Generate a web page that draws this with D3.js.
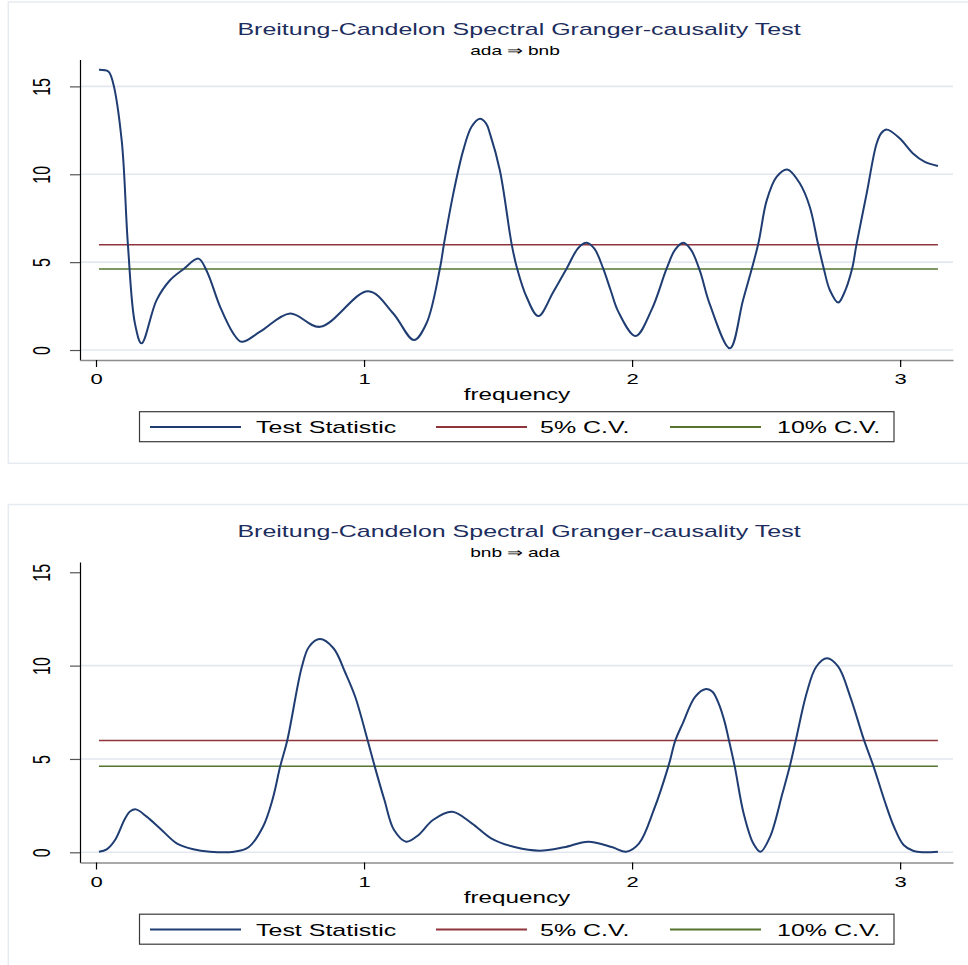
<!DOCTYPE html>
<html>
<head>
<meta charset="utf-8">
<script src="https://cdn.jsdelivr.net/npm/d3@7/dist/d3.min.js"></script>
<style>
body { margin: 0; background: #fff; }
text { font-family: "Liberation Sans", Arial, Helvetica, sans-serif; }
</style>
</head>
<body>
<div id="chart"></div>
<script>
// test statistic, ada => bnb
var freqA = [0.011,0.046,0.063,0.096,0.119,0.145,0.170,0.226,0.276,0.326,0.382,0.413,0.463,0.512,0.543,
    0.612,0.724,0.836,1.016,1.109,1.186,1.233,1.283,1.298,1.333,1.370,1.401,1.432,1.455,1.470,1.507,1.551,
    1.571,1.606,1.650,1.706,1.756,1.800,1.830,1.860,1.892,1.920,1.948,2.013,2.073,2.129,2.160,2.191,2.220,
    2.253,2.290,2.365,2.414,2.470,2.502,2.539,2.579,2.626,2.663,2.694,2.715,2.738,2.769,2.790,2.821,2.837,
    2.875,2.912,2.930,2.951,2.999,3.048,3.092,3.141];
var statA = [15.95,15.85,15.24,11.9,6.0,1.53,0.38,2.84,3.97,4.6,5.2,4.5,2.46,0.95,0.47,
    1.04,2.08,1.32,3.35,2.08,0.57,1.52,4.64,6.02,8.9,11.36,12.7,13.16,12.9,12.3,10.2,6.0,
    4.64,3.03,1.93,3.3,4.64,5.82,6.1,5.75,4.64,3.4,2.2,0.8,2.3,4.64,5.7,6.1,5.7,
    4.5,2.6,0.1,2.84,6.0,8.5,9.85,10.27,9.47,8.14,6.0,4.64,3.4,2.7,3.2,4.64,6.0,
    8.9,11.74,12.35,12.54,12.03,11.18,10.7,10.47];

// test statistic, bnb => ada
var freqB = [0.011,0.040,0.071,0.108,0.128,0.149,0.189,0.239,0.301,0.363,0.425,0.515,0.569,0.623,0.659,0.687,
    0.714,0.768,0.795,0.835,0.886,0.931,0.967,1.013,1.040,1.076,1.112,1.157,1.203,1.257,1.329,1.402,1.474,
    1.565,1.655,1.746,1.836,1.927,1.978,2.026,2.081,2.135,2.162,2.189,2.235,2.276,2.300,2.325,2.345,2.361,
    2.383,2.416,2.452,2.479,2.515,2.561,2.588,2.611,2.651,2.687,2.727,2.769,2.814,2.865,2.901,2.941,2.977,
    3.013,3.050,3.086,3.141];
var statB = [0.03,0.16,0.66,1.8,2.2,2.30,1.91,1.28,0.48,0.16,0.03,0.03,0.27,1.37,2.85,4.59,
    6.02,9.94,11.01,11.42,10.93,9.59,8.33,6.02,4.59,2.80,1.19,0.57,0.93,1.73,2.17,1.55,0.75,
    0.27,0.09,0.27,0.57,0.27,0.03,0.48,2.27,4.59,6.02,6.91,8.33,8.75,8.6,7.9,7.0,6.02,
    4.59,2.09,0.48,0.03,0.84,3.16,4.59,6.02,8.52,9.94,10.39,9.94,8.33,6.02,4.59,2.80,1.37,
    0.39,0.07,0.00,0.03];

var cv5 = 5.99;
var cv10 = 4.61;

var xTicks = [0, 1, 2, 3];
var yTicks = [0, 5, 10, 15];
var gridA = [0, 5, 10, 15];
var gridB = [0, 5, 10];

var titleText = 'Breitung-Candelon Spectral Granger-causality Test';
var subtitles = ['ada \u21D2 bnb', 'bnb \u21D2 ada'];
var legendLabels = ['Test Statistic', '5% C.V.', '10% C.V.'];
var colors = ['#1f3d72', '#90353b', '#55752f'];

var SX = 1.47; // picture is stretched sideways
var W = 968, H = 965;

var svg = d3.select('#chart').append('svg')
    .attr('width', W)
    .attr('height', H);

svg.append('rect').attr('width', W).attr('height', H).attr('fill', '#fff');

var xScale = d3.scaleLinear()
    .domain([-0.0597, 3.1972])
    .range([80, 953]);

var line = function(yScale){
    return d3.line()
        .x(function(d){ return xScale(d[0]); })
        .y(function(d){ return yScale(d[1]); })
        .curve(d3.curveCatmullRom.alpha(0.5));
};

function addText(g, x, y, str, size, color, anchor){
    return g.append('text')
        .attr('transform', 'translate(' + x + ',' + y + ') scale(' + SX + ',1)')
        .attr('text-anchor', anchor || 'middle')
        .attr('font-size', size)
        .attr('fill', color || '#000')
        .text(str);
}

function drawPanel(top, freq, stat, sub, yDomain, grid, frameH){
    var g = svg.append('g').attr('transform', 'translate(0,' + top + ')');

    g.append('rect')
        .attr('x', 8.3).attr('y', 0)
        .attr('width', 1000).attr('height', frameH)
        .attr('fill', '#fff')
        .attr('stroke', '#e6eaf1')
        .attr('stroke-width', 1.5);

    var yScale = d3.scaleLinear()
        .domain(yDomain)
        .range([358, 57.5]);

    // grid
    g.selectAll('line.grid')
        .data(grid)
        .enter()
        .append('line')
        .attr('class', 'grid')
        .attr('x1', 80).attr('x2', 953)
        .attr('y1', function(d){ return yScale(d); })
        .attr('y2', function(d){ return yScale(d); })
        .attr('stroke', '#e3e8f0')
        .attr('stroke-width', 1.6);

    // y axis
    var yAxis = d3.axisLeft(yScale)
        .tickValues(yTicks)
        .tickSize(10)
        .tickSizeOuter(0)
        .tickFormat(d3.format('d'));
    var ya = g.append('g').attr('transform', 'translate(80,0)').call(yAxis);
    ya.select('.domain').attr('stroke', '#000').attr('stroke-width', 1.2);
    ya.selectAll('.tick line').attr('stroke', '#555').attr('stroke-width', 1.2);
    ya.selectAll('.tick text')
        .attr('x', null).attr('dy', null)
        .attr('transform', 'translate(-30,0) scale(' + SX + ',1) rotate(-90)')
        .attr('text-anchor', 'middle')
        .attr('font-size', 16)
        .attr('font-family', null)
        .attr('fill', '#000');

    // x axis
    var xAxis = d3.axisBottom(xScale)
        .tickValues(xTicks)
        .tickSize(7)
        .tickSizeOuter(0)
        .tickFormat(d3.format('d'));
    var xa = g.append('g').attr('transform', 'translate(0,358)').call(xAxis);
    xa.select('.domain').attr('stroke', '#8c8c8c').attr('stroke-width', 1.6);
    xa.selectAll('.tick line').attr('stroke', '#000').attr('stroke-width', 1.2);
    xa.selectAll('.tick text')
        .attr('y', null).attr('dy', null)
        .attr('transform', 'translate(0,24) scale(' + SX + ',1)')
        .attr('font-size', 15)
        .attr('font-family', null)
        .attr('fill', '#000');

    // critical values
    var f0 = freq[0], f1 = freq[freq.length - 1];
    g.append('path')
        .attr('d', line(yScale)([[f0, cv5], [f1, cv5]]))
        .attr('fill', 'none').attr('stroke', colors[1]).attr('stroke-width', 1.5);
    g.append('path')
        .attr('d', line(yScale)([[f0, cv10], [f1, cv10]]))
        .attr('fill', 'none').attr('stroke', colors[2]).attr('stroke-width', 1.6);

    // test statistic
    g.append('path')
        .datum(d3.zip(freq, stat))
        .attr('d', line(yScale))
        .attr('fill', 'none')
        .attr('stroke', colors[0])
        .attr('stroke-width', 2);

    // titles
    addText(g, 519, 32.5, titleText, 17, '#1c2d5e');
    addText(g, 515, 52.5, sub, 13, '#000');
    addText(g, 517, 398, 'frequency', 16.5, '#000');

    // legend
    g.append('rect')
        .attr('x', 139.5).attr('y', 409.7)
        .attr('width', 754.5).attr('height', 30)
        .attr('fill', '#fff')
        .attr('stroke', '#3a3a3a')
        .attr('stroke-width', 1.2);
    var lx = [150, 436, 670];
    var tx = [256, 540, 777];
    for (let i = 0; i < legendLabels.length; i++){
        g.append('line')
            .attr('x1', lx[i]).attr('x2', lx[i] + 91)
            .attr('y1', 425).attr('y2', 425)
            .attr('stroke', colors[i]).attr('stroke-width', 2);
        addText(g, tx[i], 431.3, legendLabels[i], 17, '#000', 'start');
    }
}

drawPanel(2, freqA, statA, subtitles[0], [-0.568, 16.53], gridA, 461.3);
drawPanel(504.5, freqB, statB, subtitles[1], [-0.546, 15.55], gridB, 600);
</script>
</body>
</html>
